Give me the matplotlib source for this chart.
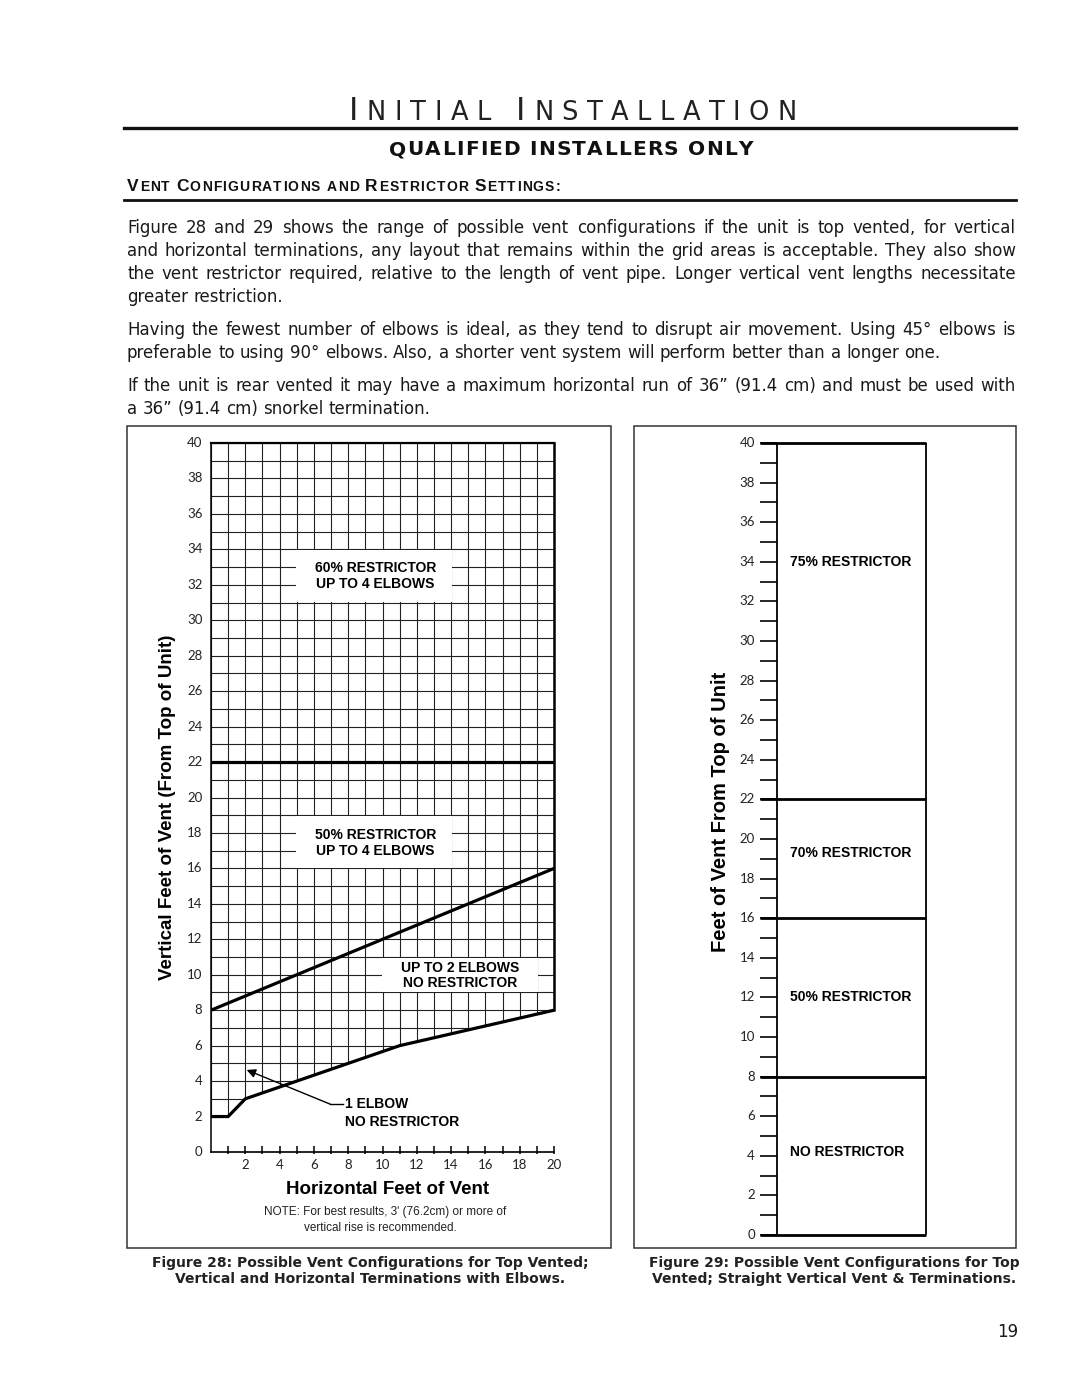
import matplotlib
matplotlib.use('Agg')
import matplotlib.pyplot as plt
from matplotlib.patches import Rectangle, Polygon

# ---- data ----
lower_x = [0, 1, 2, 11, 20]          # 1 elbow / no restrictor limit
lower_y = [2, 2, 3, 6, 8]
upper_x = [0, 20]                    # 50% restrictor limit
upper_y = [8, 16]
limit_60 = 22                        # 60% restrictor above this
x_ticks = list(range(2, 21, 2))
y_ticks = list(range(0, 41, 2))

zones_right = [0, 8, 16, 22, 40]     # straight vertical vent boundaries
zone_labels = ['NO RESTRICTOR', '50% RESTRICTOR', '70% RESTRICTOR', '75% RESTRICTOR']
zone_label_y = [4.2, 12.0, 19.3, 34.0]

left_notes = [
    ('60% RESTRICTOR\nUP TO 4 ELBOWS', 9.6, 32.5),
    ('50% RESTRICTOR\nUP TO 4 ELBOWS', 9.6, 17.45),
    ('UP TO 2 ELBOWS\nNO RESTRICTOR', 14.5, 9.95),
]

paragraphs = [
    ["Figure 28 and 29 shows the range of possible vent configurations if the unit is top vented, for vertical",
     "and horizontal terminations, any layout that remains within the grid areas is acceptable. They also show",
     "the vent restrictor required, relative to the length of vent pipe. Longer vertical vent lengths necessitate",
     "greater restriction."],
    ["Having the fewest number of elbows is ideal, as they tend to disrupt air movement. Using 45\u00b0 elbows is",
     "preferable to using 90\u00b0 elbows. Also, a shorter vent system will perform better than a longer one."],
    ["If the unit is rear vented it may have a maximum horizontal run of 36\u201d (91.4 cm) and must be used with",
     "a 36\u201d (91.4 cm) snorkel termination."],
]

W, H = 1080, 1397
fig = plt.figure(figsize=(W / 100, H / 100), dpi=100)
fig.patch.set_facecolor('white')
renderer = fig.canvas.get_renderer()

SANS = 'Liberation Sans'
BODY = 'DejaVu Sans'
THIN = 'Lato'
INK = '#1a1a1a'


def fx(x):
    return x / W


def fy(y):
    return 1 - y / H


def text_w(s, **kw):
    t = fig.text(0, 0, s, **kw)
    w = t.get_window_extent(renderer).width
    t.remove()
    return w


def space_w(**kw):
    return text_w('x x', **kw) - text_w('xx', **kw)


# draw text char by char, stretched to fill x0..x1 (fake small caps / tracking)
def tracked(x0, x1, y, runs, **kw):
    chars = [(c, s) for txt, s in runs for c in txt]
    ws = []
    for c, s in chars:
        if c == ' ':
            ws.append(space_w(fontsize=s, **kw))
        else:
            ws.append(text_w(c, fontsize=s, **kw))
    track = (x1 - x0 - sum(ws)) / (len(chars) - 1)
    x = x0
    for (c, s), w in zip(chars, ws):
        if c != ' ':
            fig.text(fx(x), fy(y), c, fontsize=s, ha='left', va='baseline', **kw)
        x += w + track


# ---- page header ----
tracked(349, 797, 120, [('I', 23), ('NITIAL ', 18.5), ('I', 23), ('NSTALLATION', 18.5)],
        family=BODY, color='#222222')
fig.add_artist(plt.Line2D([fx(124), fx(1016)], [fy(128), fy(128)], lw=2.4, color='#111111'))
tracked(389, 753, 155, [('QUALIFIED INSTALLERS ONLY', 14.5)], family=BODY, weight='bold',
        color='#111111')
tracked(127, 560, 191, [('V', 12.5), ('ENT ', 10), ('C', 12.5), ('ONFIGURATIONS AND ', 10),
                        ('R', 12.5), ('ESTRICTOR ', 10), ('S', 12.5), ('ETTINGS:', 10)],
        family=SANS, weight='bold', color='#111111')
fig.add_artist(plt.Line2D([fx(124), fx(1016)], [fy(200), fy(200)], lw=2.0, color='#111111'))

# ---- justified body text ----
body_kw = dict(family=BODY, color=INK)
fs = 12.0
full_lines = [ln for p in paragraphs for ln in p[:-1]]
widest = max(text_w(ln, fontsize=fs, **body_kw) for ln in full_lines)
if widest > 885:
    fs = fs * 885 / widest
left, right = 127, 1016
y = 233
for p in paragraphs:
    for i, ln in enumerate(p):
        words = ln.split(' ')
        ws = [text_w(wd, fontsize=fs, **body_kw) for wd in words]
        if i < len(p) - 1:
            gap = (right - left - sum(ws)) / (len(words) - 1)
        else:
            gap = space_w(fontsize=fs, **body_kw)
        x = left
        for wd, w in zip(words, ws):
            fig.text(fx(x), fy(y), wd, fontsize=fs, ha='left', va='baseline', **body_kw)
            x += w + gap
        y += 23
    y += 10

# ---- frames ----
for x0, x1 in [(127, 611), (634, 1016)]:
    fig.add_artist(Rectangle((fx(x0), fy(1248)), (x1 - x0) / W, (1248 - 426) / H,
                             transform=fig.transFigure, fill=False, lw=1.1, ec='#333333'))

# ---- figure 28: vent grid ----
ax1 = fig.add_axes([fx(211), fy(1152), (554 - 211) / W, (1152 - 443) / H])
ax1.set_xlim(0, 20)
ax1.set_ylim(0, 40)
ax1.axis('off')

clip = Polygon(list(zip(lower_x, lower_y)) + [(20, 40), (0, 40)], closed=True,
               fill=False, lw=0, transform=ax1.transData)
ax1.add_patch(clip)
vl = ax1.vlines(range(0, 21), 0, 40, colors='#222222', lw=0.8, zorder=1)
vl.set_clip_path(clip)
hl = ax1.hlines(range(0, 41), 0, 20, colors='#222222', lw=0.8, zorder=1)
hl.set_clip_path(clip)

for txt, tx, ty in left_notes:
    cx = round(tx - 4.6) if tx < 12 else 10
    w = 9
    h = 3 if tx < 12 else 2
    by = round(ty - 1.5) if tx < 12 else 9
    ax1.add_patch(Rectangle((cx - 0.05, by + 0.05), w + 0.1, h - 0.1, fc='white', ec='none', zorder=2))
    ax1.text(tx, ty, txt, ha='center', va='center', fontsize=10, weight='bold',
             family=SANS, linespacing=1.15, zorder=4)

ax1.plot([0, 20], [limit_60, limit_60], color='black', lw=2.3, solid_capstyle='butt', zorder=3)
ax1.plot(upper_x, upper_y, color='black', lw=2.3, solid_capstyle='butt', zorder=3)
ax1.plot(lower_x, lower_y, color='black', lw=2.3, solid_capstyle='butt', zorder=3)
ax1.plot([20, 20], [lower_y[-1], 40], color='black', lw=1.8, clip_on=False, zorder=3)
ax1.plot([0, 20], [40, 40], color='black', lw=1.6, clip_on=False, zorder=3)
ax1.plot([0, 0], [0, 40], color='black', lw=1.1, clip_on=False, zorder=3)
ax1.plot([0, 20], [0, 0], color='black', lw=1.2, clip_on=False, zorder=3)
ax1.vlines(range(1, 21), -0.12, 0.35, colors='black', lw=1.1, clip_on=False, zorder=3)

tick_kw = dict(fontsize=9.5, family=THIN, color='#222222')
for v in y_ticks:
    ax1.text(-0.5, v, str(v), ha='right', va='center', **tick_kw)
for v in x_ticks:
    ax1.text(v, -0.75, str(v), ha='center', va='center', **tick_kw)

ax1.annotate('', xy=(2.08, 4.63), xytext=(6.95, 2.7),
             arrowprops=dict(arrowstyle='-|>', color='black', lw=1.0, mutation_scale=13,
                             shrinkA=0, shrinkB=0), zorder=4)
ax1.plot([6.95, 7.7], [2.7, 2.7], color='black', lw=1.0, zorder=4)
ax1.text(7.8, 2.7, '1 ELBOW', ha='left', va='center', fontsize=10, weight='bold', family=SANS)
ax1.text(7.8, 1.72, 'NO RESTRICTOR', ha='left', va='center', fontsize=10, weight='bold', family=SANS)

fig.text(fx(167), fy(807), 'Vertical Feet of Vent (From Top of Unit)', rotation=90,
         ha='center', va='center', fontsize=13.5, weight='bold', family=SANS)
fig.text(fx(388), fy(1189), 'Horizontal Feet of Vent', ha='center', va='center',
         fontsize=13.5, weight='bold', family=SANS)
fig.text(fx(385), fy(1212), "NOTE: For best results, 3' (76.2cm) or more of", ha='center',
         va='center', fontsize=8.5, family=SANS, color='#222222')
fig.text(fx(380), fy(1228), 'vertical rise is recommended.', ha='center', va='center',
         fontsize=8.5, family=SANS, color='#222222')

# ---- figure 29: straight vertical vent ----
ax2 = fig.add_axes([fx(760), fy(1235), (926 - 760) / W, (1235 - 443) / H])
ax2.set_xlim(0, 1)
ax2.set_ylim(0, 40)
ax2.axis('off')
col = 17 / 166
ax2.hlines(range(0, 41), 0, col, colors='black', lw=1.2, clip_on=False)
ax2.vlines([col, 1], 0, 40, colors='black', lw=1.3, clip_on=False)
ax2.hlines(zones_right, 0, 1, colors='black', lw=2.0, clip_on=False)
for v in y_ticks:
    ax2.text(-0.03, v, str(v), ha='right', va='center', **tick_kw)
for lab, ly in zip(zone_labels, zone_label_y):
    ax2.text(0.18, ly, lab, ha='left', va='center', fontsize=10, weight='bold', family=SANS)

fig.text(fx(720), fy(812), 'Feet of Vent From Top of Unit', rotation=90, ha='center',
         va='center', fontsize=14.5, weight='bold', family=SANS)

# ---- captions ----
cap_kw = dict(ha='center', va='baseline', fontsize=10, weight='bold', family=BODY, color='#222222')
fig.text(fx(370), fy(1267), 'Figure 28: Possible Vent Configurations for Top Vented;', **cap_kw)
fig.text(fx(370), fy(1283), 'Vertical and Horizontal Terminations with Elbows.', **cap_kw)
fig.text(fx(834), fy(1267), 'Figure 29: Possible Vent Configurations for Top', **cap_kw)
fig.text(fx(834), fy(1283), 'Vented; Straight Vertical Vent & Terminations.', **cap_kw)

fig.text(fx(1018), fy(1337), '19', ha='right', va='baseline', fontsize=12, family=BODY, color=INK)

fig.savefig('out.png', dpi=100, facecolor='white')
